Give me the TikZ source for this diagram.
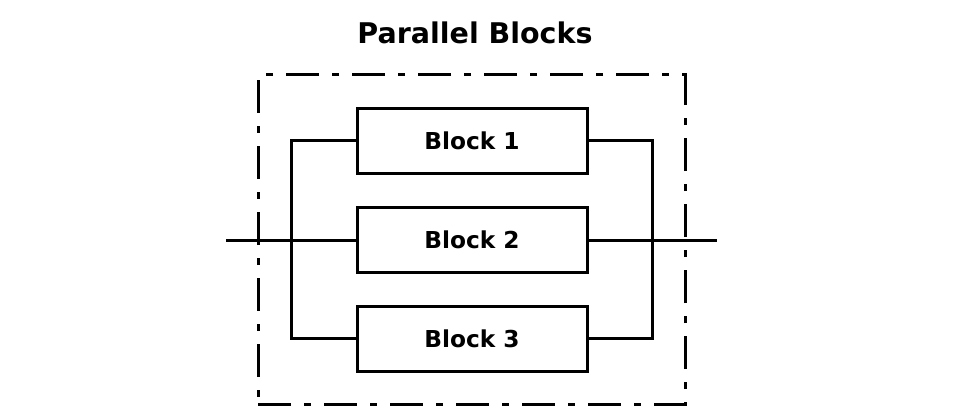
\documentclass[tikz,border=0pt]{standalone}
\usepackage{fontspec}
\setmainfont{DejaVu Sans}
\begin{document}
\begin{tikzpicture}[x=1pt,y=-1pt,
  blockbox/.style={draw=black,line width=3pt,minimum width=230pt,minimum height=65pt,inner sep=0pt,fill=white,
    font=\fontsize{23.3}{26}\selectfont\bfseries},
  wire/.style={draw=black,line width=3pt},
  frame/.style={draw=black,line width=3pt,dash pattern=on 33pt off 13pt on 7pt off 13pt}]
\useasboundingbox (0,0) rectangle (980,420);
\node[font=\fontsize{28.5}{32}\selectfont\bfseries,inner sep=0pt,anchor=base] (title) at (475,44) {Parallel Blocks};
\coordinate (fbl) at (258,404);
\coordinate (fbr) at (685,404);
\coordinate (ftr) at (685,75);
\coordinate (ftl) at (258,75);
\draw[frame] (fbl) -- (fbr) -- (ftr) -- (ftl) -- cycle;
\node[blockbox] (b1) at (472,140.5) {Block 1};
\node[blockbox] (b2) at (472,240) {Block 2};
\node[blockbox] (b3) at (472,338.5) {Block 3};
\coordinate (inL) at (226,240);
\coordinate (outR) at (717,240);
\coordinate (busL1) at (291,140.5);
\coordinate (busL3) at (291,338.5);
\coordinate (busR1) at (652,140.5);
\coordinate (busR3) at (652,338.5);
\draw[wire] (inL) -- (b2.west);
\draw[wire] (b2.east) -- (outR);
\draw[wire] (b1.west) -- (busL1) -- (busL3) -- (b3.west);
\draw[wire] (b1.east) -- (busR1) -- (busR3) -- (b3.east);
\end{tikzpicture}
\end{document}
